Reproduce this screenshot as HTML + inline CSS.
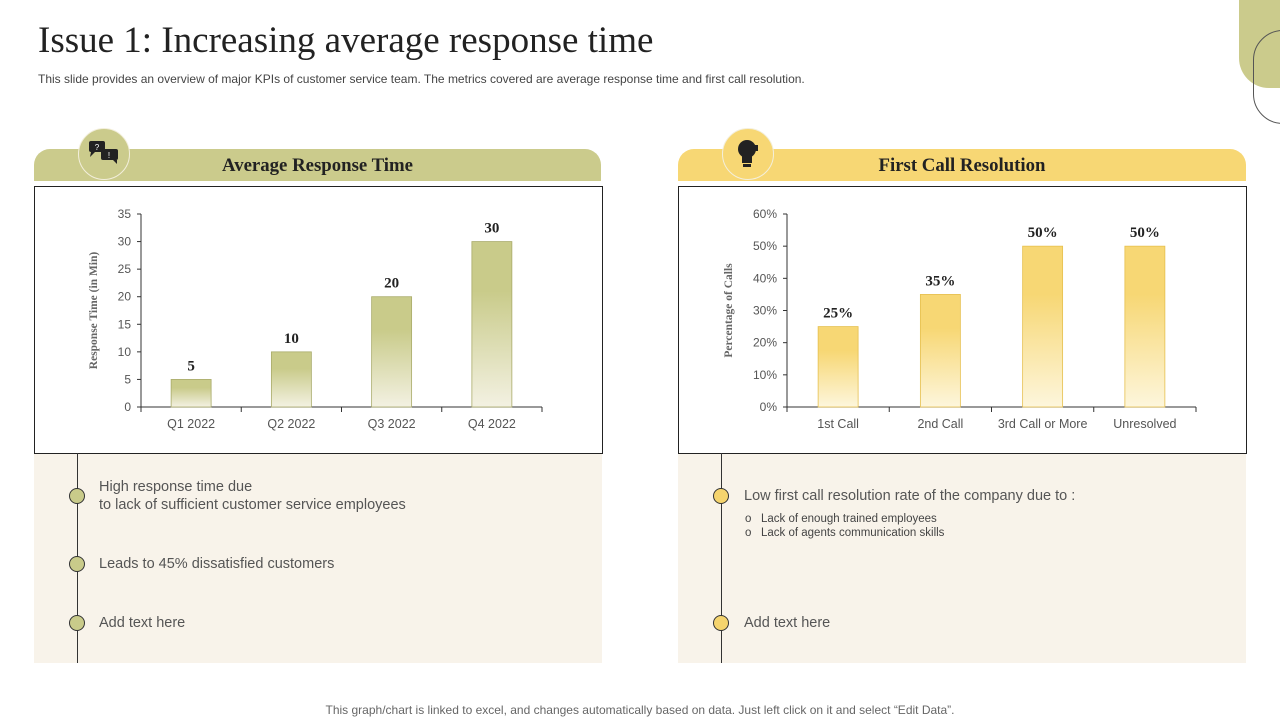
<!DOCTYPE html>
<html><head><meta charset="utf-8"><style>
body{margin:0;width:1280px;height:720px;background:#fff;position:relative;overflow:hidden;font-family:"Liberation Sans",sans-serif}
.abs{position:absolute}
.title{left:38px;top:19px;font-family:"Liberation Serif",serif;font-size:37px;color:#222}
.sub{left:38px;top:72px;font-size:12px;color:#444}
.hdr{height:32px;top:149px;border-radius:16px 16px 0 0;font-family:"Liberation Serif",serif;font-weight:bold;font-size:18.8px;color:#222;text-align:center;line-height:34px}
.box{top:186px;height:266px;border:1px solid #222;background:#fff}
.low{top:454px;height:209px;background:#f8f3ea}
.vline{width:1px;background:#333}
.dot{width:16px;height:16px;border-radius:50%;border:1px solid #333;box-sizing:border-box}
.txt{font-size:14.5px;color:#555;line-height:18px}
.icon{width:50px;height:50px;border-radius:50%;border:1.5px solid #f3efdc;top:128px}
</style></head><body>
<div class="abs title">Issue 1: Increasing average response time</div>
<div class="abs sub">This slide provides an overview of major KPIs of customer service team. The metrics covered are average response time and first call resolution.</div>
<div class="abs" style="left:1239px;top:-10px;width:60px;height:98px;background:#cbcb8c;border-radius:0 0 0 30px"></div>
<div class="abs" style="left:1253px;top:30px;width:60px;height:92px;border:1px solid #555;border-radius:30px 0 0 30px"></div>

<div class="abs hdr" style="left:34px;width:567px;background:#cbcb8c">Average Response Time</div>
<div class="abs icon" style="left:78px;background:#cbcb8c">
<svg width="50" height="50"><rect x="10" y="12" width="16" height="11" rx="2" fill="#222"/><polygon points="12,23 16,23 11,28" fill="#222"/><text x="18" y="21" font-size="8" fill="#fff" text-anchor="middle">?</text><rect x="22" y="20" width="17" height="11" rx="2" fill="#222"/><polygon points="34,31 38,31 38,35" fill="#222"/><text x="30" y="29" font-size="8" fill="#fff" text-anchor="middle">!</text></svg></div>
<div class="abs hdr" style="left:678px;width:568px;background:#f7d774">First Call Resolution</div>
<div class="abs icon" style="left:722px;background:#f7d774">
<svg width="50" height="50"><circle cx="24" cy="20" r="9" fill="#222"/><rect x="19" y="26" width="10" height="8" fill="#222"/><rect x="20" y="35" width="8" height="3" fill="#222"/><rect x="29" y="16" width="6" height="6" fill="#222"/></svg></div>

<div class="abs box" style="left:34px;width:567px"></div>
<div class="abs box" style="left:678px;width:567px"></div>
<div class="abs low" style="left:34px;width:568px"></div>
<div class="abs low" style="left:678px;width:568px"></div>
<div class="abs vline" style="left:77px;top:453px;height:210px"></div>
<div class="abs vline" style="left:721px;top:453px;height:210px"></div>

<div class="abs dot" style="left:69px;top:488px;background:#c9cb8a"></div>
<div class="abs dot" style="left:69px;top:556px;background:#c9cb8a"></div>
<div class="abs dot" style="left:69px;top:615px;background:#c9cb8a"></div>
<div class="abs txt" style="left:99px;top:478px">High response time due<br>to lack of sufficient customer service employees</div>
<div class="abs txt" style="left:99px;top:555px">Leads to 45% dissatisfied customers</div>
<div class="abs txt" style="left:99px;top:614px">Add text here</div>

<div class="abs dot" style="left:713px;top:488px;background:#f5d46e"></div>
<div class="abs dot" style="left:713px;top:615px;background:#f5d46e"></div>
<div class="abs txt" style="left:744px;top:487px">Low first call resolution rate of the company due to :</div>
<div class="abs" style="left:745px;top:512px;font-size:11.5px;color:#444;line-height:14px">o&nbsp;&nbsp;&nbsp;Lack of enough trained employees<br>o&nbsp;&nbsp;&nbsp;Lack of agents communication skills</div>
<div class="abs txt" style="left:744px;top:614px">Add text here</div>

<div class="abs" style="left:0;width:1280px;top:703px;text-align:center;font-size:12px;color:#666">This graph/chart is linked to excel,  and changes automatically based on data. Just left click on it and select “Edit Data”.</div>

<svg class="abs" style="left:0;top:0" width="1280" height="720">
<defs>
<linearGradient id="g1" x1="0" y1="0" x2="0" y2="1"><stop offset="0.3" stop-color="#c9cb8a"/><stop offset="1" stop-color="#f3f1e2"/></linearGradient>
<linearGradient id="g2" x1="0" y1="0" x2="0" y2="1"><stop offset="0.3" stop-color="#f7d774"/><stop offset="1" stop-color="#fdf6dc"/></linearGradient>
</defs>
<g id="c1"></g><g id="c2"></g>
</svg>
<script>
const cats1=["Q1 2022","Q2 2022","Q3 2022","Q4 2022"];
const vals1=[5,10,20,30];
const ticks1=[0,5,10,15,20,25,30,35];
const cats2=["1st Call","2nd Call","3rd Call or More","Unresolved"];
const vals2=[25,35,50,50];
const ticks2=[0,10,20,30,40,50,60];
const NS="http://www.w3.org/2000/svg";
function mk(p,t,a,txt){const e=document.createElementNS(NS,t);for(const k in a)e.setAttribute(k,a[k]);if(txt!=null)e.textContent=txt;p.appendChild(e);return e;}
function chart(gid,cats,vals,ticks,x0,x1,max,fill,stroke,suffix,ylab,ylx,tickFmt){
  const g=document.getElementById(gid);const y0=407,yT=214;
  const Y=v=>y0-(v/max)*(y0-yT);const bw=(x1-x0)/cats.length;const X=i=>x0+bw*(i+0.5);
  let e=mk(g,'line',{x1:x0,y1:yT,x2:x0,y2:y0,stroke:'#333'});
  
  e=mk(g,'line',{x1:x0,y1:y0,x2:x1,y2:y0,stroke:'#333'});
  
  ticks.forEach(t=>{mk(g,'line',{x1:x0-4,y1:Y(t),x2:x0,y2:Y(t),stroke:'#333'});
    e=mk(g,'text',{x:x0-10,y:Y(t)+4,'text-anchor':'end','font-size':12,fill:'#555'},tickFmt(t));
    });
  for(let i=0;i<=cats.length;i++)mk(g,'line',{x1:x0+bw*i,y1:y0,x2:x0+bw*i,y2:y0+5,stroke:'#333'});
  cats.forEach((c,i)=>{
    e=mk(g,'rect',{x:X(i)-20,y:Y(vals[i]),width:40,height:y0-Y(vals[i]),fill:fill,stroke:stroke,'stroke-width':0.8});
    
    e=mk(g,'text',{x:X(i),y:Y(vals[i])-9,'text-anchor':'middle','font-size':15,'font-weight':'bold','font-family':'Liberation Serif, serif',fill:'#222'},vals[i]+suffix);
    
    e=mk(g,'text',{x:X(i),y:428,'text-anchor':'middle','font-size':12.5,fill:'#555'},c);
    
  });
  e=mk(g,'text',{x:ylx,y:(y0+yT)/2,'text-anchor':'middle','font-size':11.5,'font-weight':'bold','font-family':'Liberation Serif, serif',fill:'#666',transform:`rotate(-90 ${ylx} ${(y0+yT)/2})`},ylab);
  
}
chart('c1',cats1,vals1,ticks1,141,542,35,'url(#g1)','#a9ab6a','',"Response  Time  (in Min)",97,t=>String(t));
chart('c2',cats2,vals2,ticks2,787,1196,60,'url(#g2)','#e6c04f','%',"Percentage of Calls",732,t=>t+'%');
</script>
</body></html>
